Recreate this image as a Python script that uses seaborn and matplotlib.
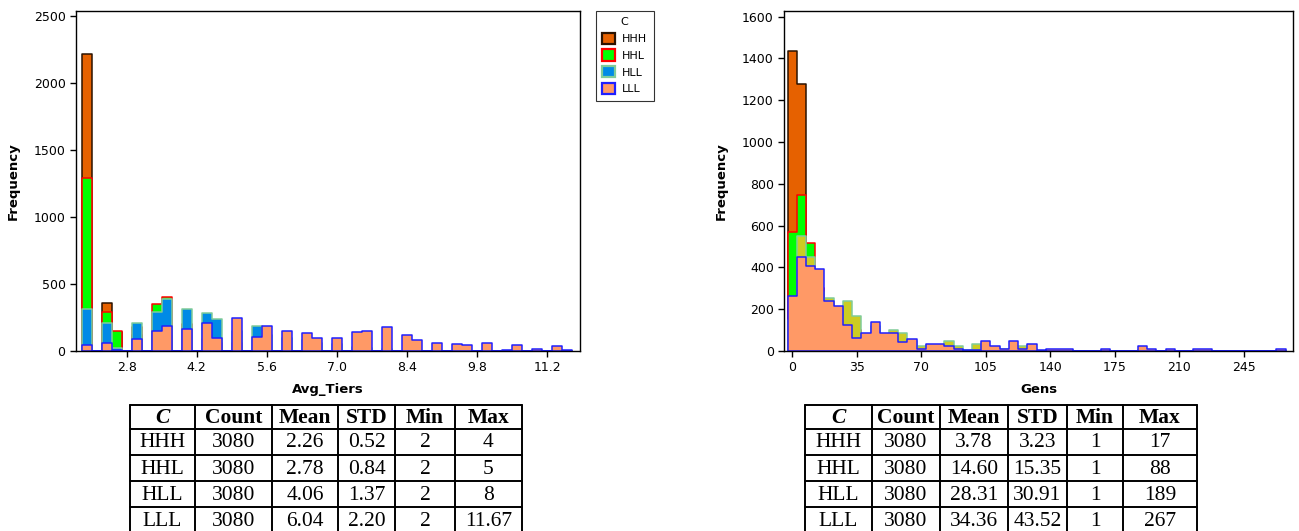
import numpy as np
import pandas as pd
import matplotlib
matplotlib.use("Agg")
import matplotlib.pyplot as plt
from matplotlib.patches import Patch
import seaborn as sns

W, H = 1299, 531

classes = ["HHH", "HHL", "HLL", "LLL"]

# Avg_Tiers histogram: bins of 0.2 starting at 1.9 (49 bins)
tiers_start, tiers_width, tiers_nbins = 1.9, 0.2, 49
tiers_hhh = [2216, 0, 361, 140, 0, 120, 0, 110, 110, 0,
             23, 0, 0, 0, 0, 0, 0, 0, 0, 0,
             0, 0, 0, 0, 0, 0, 0, 0, 0, 0,
             0, 0, 0, 0, 0, 0, 0, 0, 0, 0,
             0, 0, 0, 0, 0, 0, 0, 0, 0]
tiers_hhl = [1290, 0, 292, 152, 0, 180, 0, 349, 406, 0,
             200, 0, 90, 60, 0, 61, 0, 0, 0, 0,
             0, 0, 0, 0, 0, 0, 0, 0, 0, 0,
             0, 0, 0, 0, 0, 0, 0, 0, 0, 0,
             0, 0, 0, 0, 0, 0, 0, 0, 0]
tiers_hll = [312, 0, 207, 20, 0, 207, 0, 294, 386, 0,
             312, 0, 286, 237, 0, 150, 0, 187, 120, 0,
             100, 0, 80, 60, 0, 50, 0, 30, 25, 0,
             17, 0, 0, 0, 0, 0, 0, 0, 0, 0,
             0, 0, 0, 0, 0, 0, 0, 0, 0]
tiers_lll = [42, 0, 62, 5, 0, 87, 0, 152, 187, 0,
             162, 0, 207, 95, 0, 249, 0, 107, 187, 0,
             152, 0, 137, 97, 0, 100, 0, 142, 152, 0,
             180, 0, 117, 80, 0, 62, 0, 55, 47, 0,
             62, 0, 10, 47, 0, 17, 0, 37, 10]

# Gens histogram: bins of 5 starting at -2.5 (54 bins)
gens_start, gens_width, gens_nbins = -2.5, 5, 54
gens_hhh = [1436, 1276, 330, 38, 0, 0, 0, 0, 0, 0,
            0, 0, 0, 0, 0, 0, 0, 0, 0, 0,
            0, 0, 0, 0, 0, 0, 0, 0, 0, 0,
            0, 0, 0, 0, 0, 0, 0, 0, 0, 0,
            0, 0, 0, 0, 0, 0, 0, 0, 0, 0,
            0, 0, 0, 0]
gens_hhl = [568, 745, 518, 300, 230, 200, 150, 100, 80, 60,
            40, 30, 20, 15, 10, 7, 4, 3, 0, 0,
            0, 0, 0, 0, 0, 0, 0, 0, 0, 0,
            0, 0, 0, 0, 0, 0, 0, 0, 0, 0,
            0, 0, 0, 0, 0, 0, 0, 0, 0, 0,
            0, 0, 0, 0]
gens_hll = [150, 550, 448, 280, 255, 170, 239, 167, 80, 120,
            80, 99, 88, 50, 24, 30, 30, 48, 24, 5,
            35, 20, 15, 8, 10, 24, 10, 0, 5, 5,
            5, 0, 0, 0, 3, 0, 0, 0, 3, 0,
            0, 0, 0, 0, 0, 0, 0, 0, 0, 0,
            0, 0, 0, 0]
gens_lll = [263, 448, 407, 394, 241, 217, 124, 61, 86, 140,
            86, 86, 43, 56, 10, 35, 35, 24, 10, 5,
            5, 48, 24, 11, 48, 11, 35, 3, 11, 11,
            11, 0, 0, 0, 11, 0, 0, 0, 24, 11,
            0, 11, 0, 0, 11, 11, 0, 0, 0, 0,
            0, 0, 0, 11]

# summary tables
table_header = ["C", "Count", "Mean", "STD", "Min", "Max"]
tiers_table = [["HHH", "3080", "2.26", "0.52", "2", "4"],
               ["HHL", "3080", "2.78", "0.84", "2", "5"],
               ["HLL", "3080", "4.06", "1.37", "2", "8"],
               ["LLL", "3080", "6.04", "2.20", "2", "11.67"]]
gens_table = [["HHH", "3080", "3.78", "3.23", "1", "17"],
              ["HHL", "3080", "14.60", "15.35", "1", "88"],
              ["HLL", "3080", "28.31", "30.91", "1", "189"],
              ["LLL", "3080", "34.36", "43.52", "1", "267"]]

edge_colors = ["#2b1200", "#ff0000", "#80cc99", "#1f1fff"]
fill_left = ["#e66100", "#00ff00", "#008ae6", "#ff9966"]
fill_right = ["#e66100", "#00ff00", "#cccc22", "#ff9966"]

sns.set_theme(style="ticks")
plt.rcParams["font.family"] = ["DejaVu Sans"]
plt.rcParams["axes.edgecolor"] = "black"
plt.rcParams["axes.linewidth"] = 1.0
plt.rcParams["axes.labelcolor"] = "black"
plt.rcParams["text.color"] = "black"
plt.rcParams["xtick.color"] = "black"
plt.rcParams["ytick.color"] = "black"


def long_table(start, width, nbins, series):
    edges = start + width * np.arange(nbins + 1)
    centers = edges[:-1] + width / 2
    frames = []
    for name, counts in zip(classes, series):
        frames.append(pd.DataFrame({"value": centers, "count": counts, "C": name}))
    return pd.concat(frames, ignore_index=True), list(edges)


fig = plt.figure(figsize=(W / 100, H / 100), dpi=100)
ax1 = fig.add_axes([76 / W, 1 - 351 / H, 504 / W, 340 / H])
ax2 = fig.add_axes([784.3 / W, 1 - 351 / H, 508.4 / W, 340 / H])

tiers_df, tiers_edges = long_table(tiers_start, tiers_width, tiers_nbins,
                                   [tiers_hhh, tiers_hhl, tiers_hll, tiers_lll])
gens_df, gens_edges = long_table(gens_start, gens_width, gens_nbins,
                                 [gens_hhh, gens_hhl, gens_hll, gens_lll])

for ax, df, edges, fills in [(ax1, tiers_df, tiers_edges, fill_left),
                             (ax2, gens_df, gens_edges, fill_right)]:
    # draw each class in turn, later ones on top
    for name, fc, ec in zip(classes, fills, edge_colors):
        sub = df[df["C"] == name]
        sns.histplot(data=sub, x="value", weights="count", bins=edges,
                     element="step", fill=True, color=fc, edgecolor=ec,
                     linewidth=1.1, alpha=1, ax=ax)
    ax.set_ylabel("Frequency", fontsize=9.5, fontweight="bold", labelpad=10)
    ax.tick_params(axis="both", direction="out", length=4, width=1, labelsize=9)
    for s in ax.spines.values():
        s.set_visible(True)
        s.set_color("black")

ax1.set_xlim(1.79, 11.85)
ax1.set_ylim(0, 2540)
ax1.set_xticks([2.8, 4.2, 5.6, 7.0, 8.4, 9.8, 11.2])
ax1.set_xticklabels(["2.8", "4.2", "5.6", "7.0", "8.4", "9.8", "11.2"])
ax1.set_yticks([0, 500, 1000, 1500, 2000, 2500])
ax1.set_xlabel("Avg_Tiers", fontsize=9.5, fontweight="bold", labelpad=6)

ax2.set_xlim(-4.3, 271.4)
ax2.set_ylim(0, 1627)
ax2.set_xticks([0, 35, 70, 105, 140, 175, 210, 245])
ax2.set_yticks([0, 200, 400, 600, 800, 1000, 1200, 1400, 1600])
ax2.set_xlabel("Gens", fontsize=9.5, fontweight="bold", labelpad=6)

handles = [Patch(facecolor=fc, edgecolor=ec, linewidth=1.6, label=name)
           for name, fc, ec in zip(classes, fill_left, edge_colors)]
leg = ax1.legend(handles=handles, title="C", loc="upper left",
                 bbox_to_anchor=(1.031, 1.0), borderaxespad=0, fontsize=8,
                 title_fontsize=8, frameon=True, fancybox=False,
                 edgecolor="black", handlelength=1.15, handleheight=1.15,
                 handletextpad=0.7, labelspacing=0.5, borderpad=0.55)
leg.get_frame().set_linewidth(0.8)

# tables drawn in pixel coordinates
tab = fig.add_axes([0, 0, 1, 1])
tab.set_xlim(0, W)
tab.set_ylim(H, 0)
tab.axis("off")

row_lines = [405.3, 428.7, 454.9, 481.1, 507.3, 533.5]
left_cols = [130, 195, 271.7, 338.3, 395, 455, 521.7]
right_cols = [805, 871.7, 940, 1008.3, 1066.7, 1123.3, 1196.7]

for cols, rows in [(left_cols, tiers_table), (right_cols, gens_table)]:
    for y in row_lines:
        tab.plot([cols[0], cols[-1]], [y, y], color="black", lw=1.4)
    for x in cols:
        tab.plot([x, x], [row_lines[0], row_lines[-1]], color="black", lw=1.4)
    for j, head in enumerate(table_header):
        xc = (cols[j] + cols[j + 1]) / 2
        yc = (row_lines[0] + row_lines[1]) / 2
        tab.text(xc, yc + 1, head, ha="center", va="center", fontsize=15.5,
                 fontweight="bold", style="italic" if j == 0 else "normal",
                 family="Liberation Serif")
    for i, row in enumerate(rows):
        yc = (row_lines[i + 1] + row_lines[i + 2]) / 2
        for j, val in enumerate(row):
            xc = (cols[j] + cols[j + 1]) / 2
            tab.text(xc, yc + 1, val, ha="center", va="center", fontsize=15.5,
                     family="Liberation Serif")

fig.savefig("out.png", dpi=100)
